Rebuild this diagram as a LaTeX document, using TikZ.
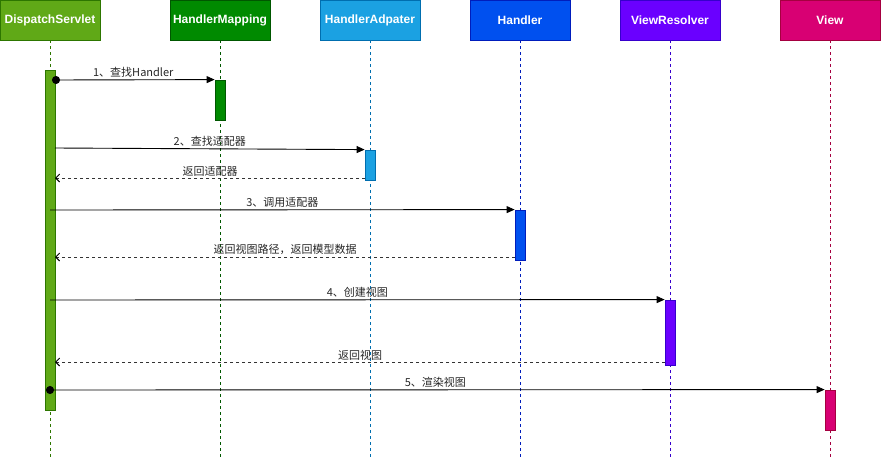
\documentclass[tikz,border=0pt]{standalone}
\usepackage{fontspec}
\setmainfont{Liberation Sans}
\newfontfamily\cjk{Noto Sans CJK SC}
\usetikzlibrary{arrows.meta}
\definecolor{dsF}{HTML}{60A917}\definecolor{dsD}{HTML}{2D7600}
\definecolor{hmF}{HTML}{008A00}\definecolor{hmD}{HTML}{005700}
\definecolor{haF}{HTML}{1BA1E2}\definecolor{haD}{HTML}{006EAF}
\definecolor{hdF}{HTML}{0050EF}\definecolor{hdD}{HTML}{001DBC}
\definecolor{vrF}{HTML}{6A00FF}\definecolor{vrD}{HTML}{3700CC}
\definecolor{vwF}{HTML}{D80073}\definecolor{vwD}{HTML}{A50040}
\tikzset{
  head/.style={rectangle, minimum width=100pt, minimum height=40pt, inner sep=0pt,
    line width=0.8pt, text=white, font=\fontsize{12}{14}\selectfont\bfseries},
  life/.style={dash pattern=on 3pt off 3pt, line width=0.8pt},
  act/.style={rectangle, minimum width=10pt, inner sep=0pt, line width=0.8pt},
  msg/.style={line width=0.9pt, -{Triangle[length=8pt,width=7pt]}},
  ret/.style={line width=0.9pt, dash pattern=on 3pt off 3pt, black!80,
    -{Straight Barb[length=4pt,width=8pt,black]}},
  lbl/.style={above=0.5pt, inner sep=1pt, font=\cjk\fontsize{11}{13}\selectfont, text=black!85},
  dot/.style={{Circle[length=8pt,width=8pt]}-{Triangle[length=8pt,width=7pt]}}
}
\begin{document}
\begin{tikzpicture}[x=1pt,y=-1pt]
\useasboundingbox (0,0) rectangle (881,461);
% headers
\node[head, fill=dsF, draw=dsD] (ds) at (50,20) {DispatchServlet};
\node[head, fill=hmF, draw=hmD] (hm) at (220,20) {HandlerMapping};
\node[head, fill=haF, draw=haD] (ha) at (370,20) {HandlerAdpater};
\node[head, fill=hdF, draw=hdD] (hd) at (520,20) {Handler};
\node[head, fill=vrF, draw=vrD] (vr) at (670,20) {ViewResolver};
\node[head, fill=vwF, draw=vwD] (vw) at (830,20) {View};
% lifeline ends
\coordinate (dsE) at (50,458);
\coordinate (hmE) at (220,458);
\coordinate (haE) at (370,458);
\coordinate (hdE) at (520,458);
\coordinate (vrE) at (670,458);
\coordinate (vwE) at (830,458);
\draw[life, dsD] (ds.south) -- (dsE);
\draw[life, hmD] (hm.south) -- (hmE);
\draw[life, haD] (ha.south) -- (haE);
\draw[life, hdD] (hd.south) -- (hdE);
\draw[life, vrD] (vr.south) -- (vrE);
\draw[life, vwD] (vw.south) -- (vwE);
% activation bars
\node[act, fill=dsF, draw=dsD, minimum height=340pt] (a0) at (50,240) {};
\node[act, fill=hmF, draw=hmD, minimum height=40pt] (a1) at (220,100) {};
\node[act, fill=haF, draw=haD, minimum height=30pt] (a2) at (370,165) {};
\node[act, fill=hdF, draw=hdD, minimum height=50pt] (a3) at (520,235) {};
\node[act, fill=vrF, draw=vrD, minimum height=65pt] (a4) at (670,332.5) {};
\node[act, fill=vwF, draw=vwD, minimum height=40pt] (a5) at (830,410) {};
% message endpoints on the caller
\coordinate (s1) at (52,80);
\coordinate (s2) at (55,148);
\coordinate (r2) at (55,178);
\coordinate (s3) at (50,210);
\coordinate (r3) at (55,257);
\coordinate (s4) at (50,300);
\coordinate (r4) at (55,362);
\coordinate (s5) at (46,390);
\coordinate (q2) at (365,178);
\coordinate (q3) at (515,257);
\coordinate (q4) at (665,362);
% messages
\draw[msg, dot] (s1) -- (a1.north west) node[lbl, midway] {1、查找Handler};
\draw[msg] (s2) -- (a2.north west) node[lbl, midway] {2、查找适配器};
\draw[ret] (q2) -- (r2) node[lbl, midway] {返回适配器};
\draw[msg] (s3) -- (a3.north west) node[lbl, midway] {3、调用适配器};
\draw[ret] (q3) -- (r3) node[lbl, midway] {返回视图路径，返回模型数据};
\draw[msg] (s4) -- (a4.north west) node[lbl, midway] {4、创建视图};
\draw[ret] (q4) -- (r4) node[lbl, midway] {返回视图};
\draw[msg, dot] (s5) -- (a5.north west) node[lbl, midway] {5、渲染视图};
\end{tikzpicture}
\end{document}
